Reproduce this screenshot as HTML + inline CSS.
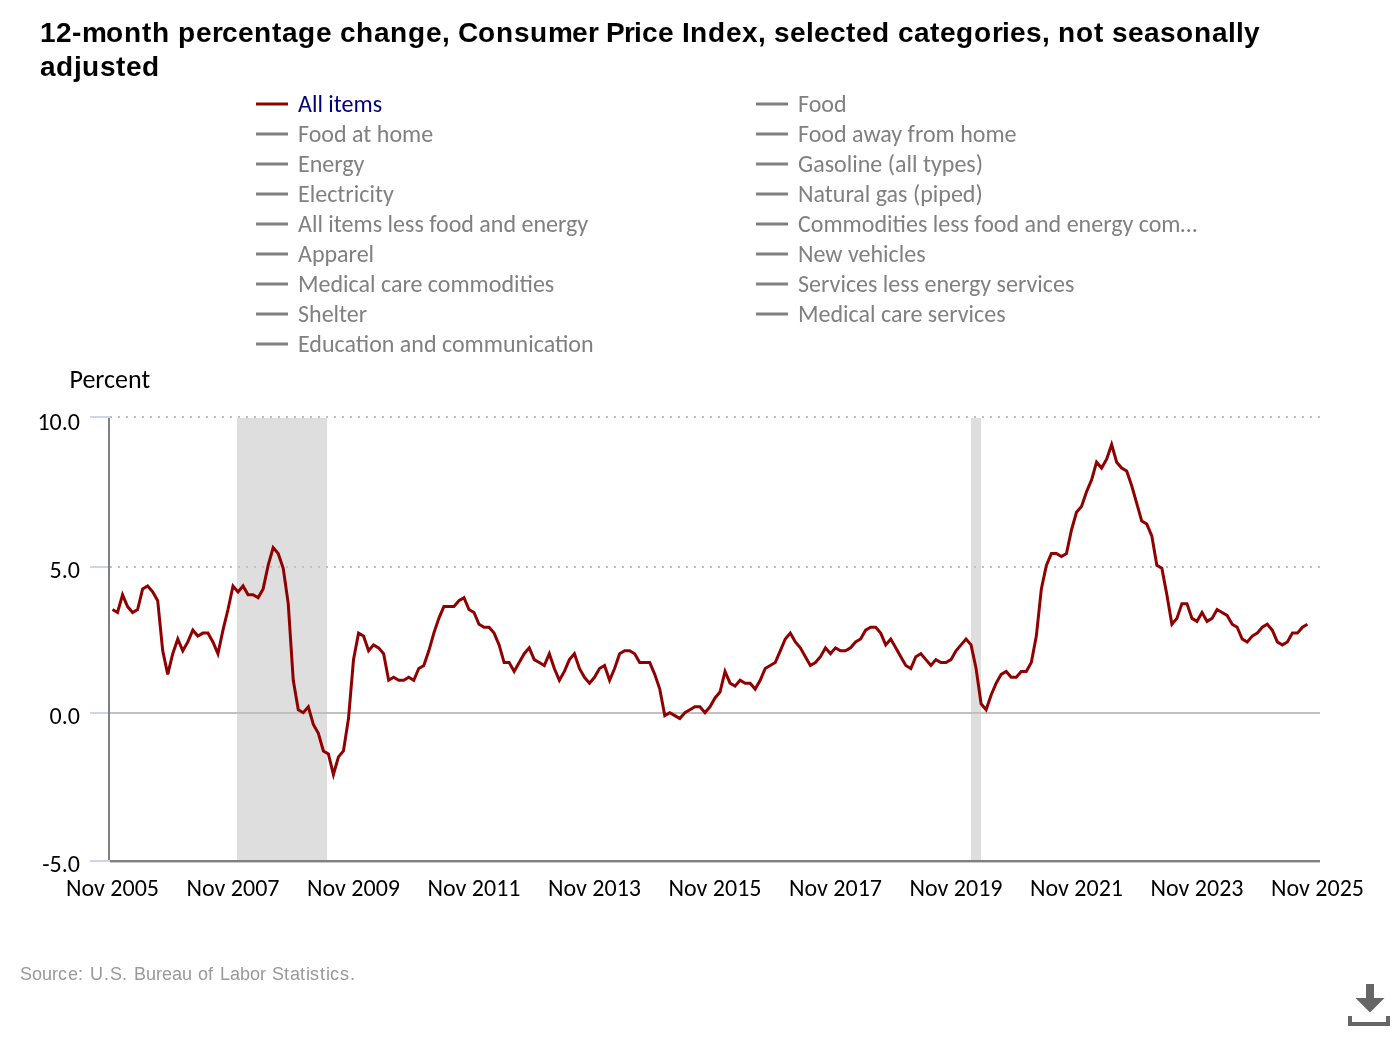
<!DOCTYPE html>
<html lang="en">
<head>
<meta charset="utf-8">
<title>12-month percentage change, Consumer Price Index, selected categories, not seasonally adjusted</title>
<style>
html,body{margin:0;padding:0;background:#fff;}
body{width:1400px;height:1040px;overflow:hidden;}
svg{display:block;}
.c{font-family:Carlito, 'Liberation Sans', sans-serif;font-size:24px;font-size-adjust:0.4775390625;}
.t{font-family:'Liberation Sans',Arial,sans-serif;font-weight:bold;font-size:28px;fill:#000;}
.s{font-family:'Liberation Sans',Arial,sans-serif;font-size:18px;fill:#999;}
</style>
</head>
<body>
<svg width="1400" height="1040" viewBox="0 0 1400 1040">
<rect x="0" y="0" width="1400" height="1040" fill="#ffffff"/>
<text class="t" x="40 56 72 82 106 124 142 152 170 178 196 212 222 238 254 272 282 298 316 332 340 356 374 390 408 426 442 450 458 478 496 514 530 548 572 588 598 606 624 634 642 658 674 682 690 708 726 742 758 766 774 790 806 814 830 846 856 872 890 898 914 930 940 956 974 992 1002 1010 1026 1042 1050 1058 1076 1094 1104 1112 1128 1144 1160 1176 1194 1212 1228 1236 1244" y="42">12-month percentage change, Consumer Price Index, selected categories, not seasonally</text>
<text class="t" x="40 56 74 82 100 116 126 142" y="76">adjusted</text>

<g class="c">
<path d="M256 104H288" stroke="#900000" stroke-width="3" fill="none"/><text x="298" y="112" fill="#000080" textLength="84.12" lengthAdjust="spacingAndGlyphs">All items</text>
<path d="M256 134H288" stroke="#808080" stroke-width="3" fill="none"/><text x="298" y="142" fill="#808080" textLength="135.17" lengthAdjust="spacingAndGlyphs">Food at home</text>
<path d="M256 164H288" stroke="#808080" stroke-width="3" fill="none"/><text x="298" y="172" fill="#808080" textLength="66.47" lengthAdjust="spacingAndGlyphs">Energy</text>
<path d="M256 194H288" stroke="#808080" stroke-width="3" fill="none"/><text x="298" y="202" fill="#808080" textLength="95.8" lengthAdjust="spacingAndGlyphs">Electricity</text>
<path d="M256 224H288" stroke="#808080" stroke-width="3" fill="none"/><text x="298" y="232" fill="#808080" textLength="290.2" lengthAdjust="spacingAndGlyphs">All items less food and energy</text>
<path d="M256 254H288" stroke="#808080" stroke-width="3" fill="none"/><text x="298" y="262" fill="#808080" textLength="76.11" lengthAdjust="spacingAndGlyphs">Apparel</text>
<path d="M256 284H288" stroke="#808080" stroke-width="3" fill="none"/><text x="298" y="292" fill="#808080" textLength="256.25" lengthAdjust="spacingAndGlyphs">Medical care commodities</text>
<path d="M256 314H288" stroke="#808080" stroke-width="3" fill="none"/><text x="298" y="322" fill="#808080" textLength="69.19" lengthAdjust="spacingAndGlyphs">Shelter</text>
<path d="M256 344H288" stroke="#808080" stroke-width="3" fill="none"/><text x="298" y="352" fill="#808080" textLength="295.55" lengthAdjust="spacingAndGlyphs">Education and communication</text>
<path d="M756 104H788" stroke="#808080" stroke-width="3" fill="none"/><text x="798" y="112" fill="#808080" textLength="48.62" lengthAdjust="spacingAndGlyphs">Food</text>
<path d="M756 134H788" stroke="#808080" stroke-width="3" fill="none"/><text x="798" y="142" fill="#808080" textLength="218.55" lengthAdjust="spacingAndGlyphs">Food away from home</text>
<path d="M756 164H788" stroke="#808080" stroke-width="3" fill="none"/><text x="798" y="172" fill="#808080" textLength="185.02" lengthAdjust="spacingAndGlyphs">Gasoline (all types)</text>
<path d="M756 194H788" stroke="#808080" stroke-width="3" fill="none"/><text x="798" y="202" fill="#808080" textLength="184.72" lengthAdjust="spacingAndGlyphs">Natural gas (piped)</text>
<path d="M756 224H788" stroke="#808080" stroke-width="3" fill="none"/><text x="798" y="232" fill="#808080" textLength="399.12" lengthAdjust="spacingAndGlyphs">Commodities less food and energy com…</text>
<path d="M756 254H788" stroke="#808080" stroke-width="3" fill="none"/><text x="798" y="262" fill="#808080" textLength="127.55" lengthAdjust="spacingAndGlyphs">New vehicles</text>
<path d="M756 284H788" stroke="#808080" stroke-width="3" fill="none"/><text x="798" y="292" fill="#808080" textLength="276.33" lengthAdjust="spacingAndGlyphs">Services less energy services</text>
<path d="M756 314H788" stroke="#808080" stroke-width="3" fill="none"/><text x="798" y="322" fill="#808080" textLength="207.56" lengthAdjust="spacingAndGlyphs">Medical care services</text>
</g>
<rect x="237" y="418" width="90" height="442" fill="#dedede"/>
<rect x="971" y="418" width="10" height="442" fill="#dedede"/>
<path d="M110 417H1320" stroke="#c0c0c0" stroke-width="2" stroke-dasharray="2,6" fill="none"/>
<path d="M110 567H1320" stroke="#c0c0c0" stroke-width="2" stroke-dasharray="2,6" fill="none"/>
<path d="M110 713H1320" stroke="#c0c0c0" stroke-width="2" fill="none"/>
<path d="M90 417H110" stroke="#ccd6eb" stroke-width="2" fill="none"/>
<path d="M90 567H110" stroke="#ccd6eb" stroke-width="2" fill="none"/>
<path d="M90 713H110" stroke="#ccd6eb" stroke-width="2" fill="none"/>
<path d="M90 861H110" stroke="#ccd6eb" stroke-width="2" fill="none"/>
<path d="M109 418V860" stroke="#808080" stroke-width="2" fill="none"/>
<path d="M110 861H1320" stroke="#808080" stroke-width="2" fill="none"/>
<path d="M110 862.5H1320" stroke="#808080" stroke-opacity="0.4" stroke-width="1" fill="none"/>
<path d="M112.51 609.53 L117.53 612.48 L122.55 594.80 L127.57 606.59 L132.59 612.48 L137.61 609.53 L142.63 588.91 L147.66 585.96 L152.68 591.85 L157.70 600.69 L162.72 650.79 L167.74 674.36 L172.76 653.73 L177.78 639.00 L182.80 650.79 L187.82 641.95 L192.84 630.16 L197.86 636.05 L202.88 633.11 L207.90 633.11 L212.93 641.95 L217.95 653.73 L222.97 630.16 L227.99 609.53 L233.01 585.96 L238.03 591.85 L243.05 585.96 L248.07 594.80 L253.09 594.80 L258.11 597.75 L263.13 588.91 L268.15 565.33 L273.17 547.65 L278.20 553.55 L283.22 568.28 L288.24 603.64 L293.26 680.25 L298.28 709.72 L303.30 712.67 L308.32 706.77 L313.34 724.45 L318.36 733.29 L323.38 750.97 L328.40 753.92 L333.42 774.55 L338.44 756.87 L343.46 750.97 L348.49 718.56 L353.51 659.63 L358.53 633.11 L363.55 636.05 L368.57 650.79 L373.59 644.89 L378.61 647.84 L383.63 653.73 L388.65 680.25 L393.67 677.31 L398.69 680.25 L403.71 680.25 L408.73 677.31 L413.76 680.25 L418.78 668.47 L423.80 665.52 L428.82 650.79 L433.84 633.11 L438.86 618.37 L443.88 606.59 L448.90 606.59 L453.92 606.59 L458.94 600.69 L463.96 597.75 L468.98 609.53 L474.00 612.48 L479.02 624.27 L484.05 627.21 L489.07 627.21 L494.09 633.11 L499.11 644.89 L504.13 662.57 L509.15 662.57 L514.17 671.41 L519.19 662.57 L524.21 653.73 L529.23 647.84 L534.25 659.63 L539.27 662.57 L544.29 665.52 L549.32 653.73 L554.34 668.47 L559.36 680.25 L564.38 671.41 L569.40 659.63 L574.42 653.73 L579.44 668.47 L584.46 677.31 L589.48 683.20 L594.50 677.31 L599.52 668.47 L604.54 665.52 L609.56 680.25 L614.59 668.47 L619.61 653.73 L624.63 650.79 L629.65 650.79 L634.67 653.73 L639.69 662.57 L644.71 662.57 L649.73 662.57 L654.75 674.36 L659.77 689.09 L664.79 715.61 L669.81 712.67 L674.83 715.61 L679.85 718.56 L684.88 712.67 L689.90 709.72 L694.92 706.77 L699.94 706.77 L704.96 712.67 L709.98 706.77 L715.00 697.93 L720.02 692.04 L725.04 671.41 L730.06 683.20 L735.08 686.15 L740.10 680.25 L745.12 683.20 L750.15 683.20 L755.17 689.09 L760.19 680.25 L765.21 668.47 L770.23 665.52 L775.25 662.57 L780.27 650.79 L785.29 639.00 L790.31 633.11 L795.33 641.95 L800.35 647.84 L805.37 656.68 L810.39 665.52 L815.41 662.57 L820.44 656.68 L825.46 647.84 L830.48 653.73 L835.50 647.84 L840.52 650.79 L845.54 650.79 L850.56 647.84 L855.58 641.95 L860.60 639.00 L865.62 630.16 L870.64 627.21 L875.66 627.21 L880.68 633.11 L885.71 644.89 L890.73 639.00 L895.75 647.84 L900.77 656.68 L905.79 665.52 L910.81 668.47 L915.83 656.68 L920.85 653.73 L925.87 659.63 L930.89 665.52 L935.91 659.63 L940.93 662.57 L945.95 662.57 L950.98 659.63 L956.00 650.79 L961.02 644.89 L966.04 639.00 L971.06 644.89 L976.08 668.47 L981.10 703.83 L986.12 709.72 L991.14 694.99 L996.16 683.20 L1001.18 674.36 L1006.20 671.41 L1011.22 677.31 L1016.24 677.31 L1021.27 671.41 L1026.29 671.41 L1031.31 662.57 L1036.33 636.05 L1041.35 588.91 L1046.37 565.33 L1051.39 553.55 L1056.41 553.55 L1061.43 556.49 L1066.45 553.55 L1071.47 529.97 L1076.49 512.29 L1081.51 506.40 L1086.54 491.67 L1091.56 479.88 L1096.58 462.20 L1101.60 468.09 L1106.62 459.25 L1111.64 444.52 L1116.66 462.20 L1121.68 468.09 L1126.70 471.04 L1131.72 485.77 L1136.74 503.45 L1141.76 521.13 L1146.78 524.08 L1151.80 535.87 L1156.83 565.33 L1161.85 568.28 L1166.87 594.80 L1171.89 624.27 L1176.91 618.37 L1181.93 603.64 L1186.95 603.64 L1191.97 618.37 L1196.99 621.32 L1202.01 612.48 L1207.03 621.32 L1212.05 618.37 L1217.07 609.53 L1222.10 612.48 L1227.12 615.43 L1232.14 624.27 L1237.16 627.21 L1242.18 639.00 L1247.20 641.95 L1252.22 636.05 L1257.24 633.11 L1262.26 627.21 L1267.28 624.27 L1272.30 630.16 L1277.32 641.95 L1282.34 644.89 L1287.37 641.95 L1292.39 633.11 L1297.41 633.11 L1302.43 627.21 L1307.45 624.27" stroke="#900000" stroke-width="3" fill="none" stroke-linejoin="miter" stroke-miterlimit="4" stroke-linecap="butt"/>
<g class="c" fill="#000">
<text x="69.5" y="388" font-size="26" textLength="80.59" lengthAdjust="spacingAndGlyphs">Percent</text>
<text x="80" y="430" text-anchor="end" textLength="42.56" lengthAdjust="spacingAndGlyphs">10.0</text>
<text x="80" y="578" text-anchor="end" textLength="30.39" lengthAdjust="spacingAndGlyphs">5.0</text>
<text x="80" y="724" text-anchor="end" textLength="30.39" lengthAdjust="spacingAndGlyphs">0.0</text>
<text x="80" y="872" text-anchor="end" textLength="37.73" lengthAdjust="spacingAndGlyphs">-5.0</text>
<text x="112.5" y="896" text-anchor="middle" textLength="92.97" lengthAdjust="spacingAndGlyphs">Nov 2005</text>
<text x="233.0" y="896" text-anchor="middle" textLength="92.97" lengthAdjust="spacingAndGlyphs">Nov 2007</text>
<text x="353.5" y="896" text-anchor="middle" textLength="92.97" lengthAdjust="spacingAndGlyphs">Nov 2009</text>
<text x="474.0" y="896" text-anchor="middle" textLength="92.97" lengthAdjust="spacingAndGlyphs">Nov 2011</text>
<text x="594.5" y="896" text-anchor="middle" textLength="92.97" lengthAdjust="spacingAndGlyphs">Nov 2013</text>
<text x="715.0" y="896" text-anchor="middle" textLength="92.97" lengthAdjust="spacingAndGlyphs">Nov 2015</text>
<text x="835.5" y="896" text-anchor="middle" textLength="92.97" lengthAdjust="spacingAndGlyphs">Nov 2017</text>
<text x="956.0" y="896" text-anchor="middle" textLength="92.97" lengthAdjust="spacingAndGlyphs">Nov 2019</text>
<text x="1076.5" y="896" text-anchor="middle" textLength="92.97" lengthAdjust="spacingAndGlyphs">Nov 2021</text>
<text x="1197.0" y="896" text-anchor="middle" textLength="92.97" lengthAdjust="spacingAndGlyphs">Nov 2023</text>
<text x="1317.5" y="896" text-anchor="middle" textLength="92.97" lengthAdjust="spacingAndGlyphs">Nov 2025</text>
</g>
<text class="s" x="20 32 42 52 58 68 78 84 90 104 110 122 128 134 146 156 162 172 182 192 198 208 214 220 230 240 250 260 266 272 284 290 300 306 310 320 326 330 340 350" y="980">Source: U.S. Bureau of Labor Statistics.</text>
<g fill="#666"><path d="M1366 984H1374V998H1384.5L1370 1012.5L1355.5 998H1366Z"/><path d="M1348 1016H1352V1022H1386V1016H1390V1026H1348Z"/></g>
</svg>
</body>
</html>
